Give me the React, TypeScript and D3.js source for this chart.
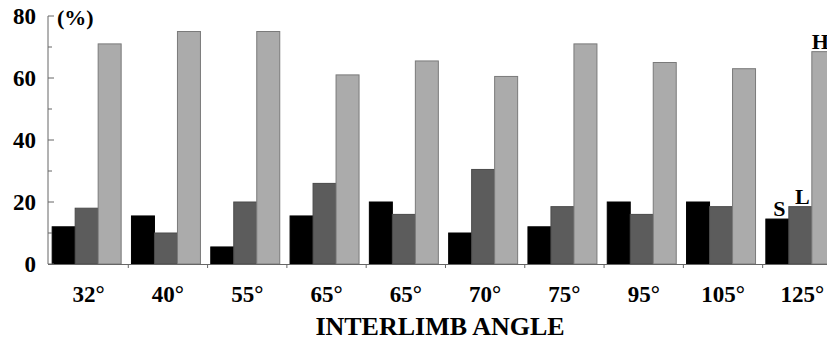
import { useEffect, useRef } from "react";
import { select, scaleBand, scaleLinear, range } from "d3";

const angles = ["32", "40", "55", "65", "65", "70", "75", "95", "105", "125"];
const seriesS = [12, 15.5, 5.5, 15.5, 20, 10, 12, 20, 20, 14.5];
const seriesL = [18, 10, 20, 26, 16, 30.5, 18.5, 16, 18.5, 18.5];
const seriesH = [71, 75, 75, 61, 65.5, 60.5, 71, 65, 63, 68.5];
const yTicks = [0, 20, 40, 60, 80];
const yMinor = [10, 30, 50, 70];

function App() {
    const svgRef = useRef(null);

    useEffect(() => {
        const W = 835;
        const H = 348;
        const axisX = 48;
        const svg = select(svgRef.current).attr("width", W).attr("height", H);
        svg.selectAll("*").remove();

        const font = "'Liberation Serif', 'Times New Roman', serif";

        const yScale = scaleLinear().domain([0, 80]).range([264, 16]);
        const xScale = scaleBand()
            .domain(range(angles.length).map(String))
            .range([axisX + 1, 838])
            .paddingInner(0.13)
            .paddingOuter(0.04);
        const bw = xScale.bandwidth() / 3;
        const step = xScale.step();

        // bars
        const series = [
            { values: seriesS, fill: "#000000", stroke: "#000000" },
            { values: seriesL, fill: "#5c5c5c", stroke: "#4a4a4a" },
            { values: seriesH, fill: "#ababab", stroke: "#7a7a7a" },
        ];
        const bars = svg.append("g");
        series.forEach((s, si) => {
            bars.selectAll(".bar" + si)
                .data(s.values)
                .join("rect")
                .attr("x", (d, i) => xScale(String(i)) + si * bw)
                .attr("y", (d) => yScale(d))
                .attr("width", bw)
                .attr("height", (d) => yScale(0) - yScale(d))
                .attr("fill", s.fill)
                .attr("stroke", s.stroke)
                .attr("stroke-width", 1);
        });

        // axes
        const axis = svg.append("g").attr("stroke", "#666").attr("stroke-width", 1);
        axis.append("line")
            .attr("x1", axisX).attr("x2", axisX)
            .attr("y1", yScale(80)).attr("y2", yScale(0));
        axis.append("line")
            .attr("x1", axisX).attr("x2", W)
            .attr("y1", yScale(0) + 0.5).attr("y2", yScale(0) + 0.5);
        axis.selectAll(".major")
            .data(yTicks)
            .join("line")
            .attr("x1", axisX).attr("x2", axisX + 6)
            .attr("y1", (d) => yScale(d)).attr("y2", (d) => yScale(d));
        axis.selectAll(".minor")
            .data(yMinor)
            .join("line")
            .attr("x1", axisX).attr("x2", axisX + 4)
            .attr("y1", (d) => yScale(d)).attr("y2", (d) => yScale(d));
        axis.selectAll(".xt")
            .data(range(1, angles.length))
            .join("line")
            .attr("x1", (i) => xScale(String(i)) - step * 0.04)
            .attr("x2", (i) => xScale(String(i)) - step * 0.04)
            .attr("y1", yScale(0)).attr("y2", yScale(0) + 4);

        svg.selectAll(".ylab")
            .data(yTicks)
            .join("text")
            .attr("x", 36)
            .attr("y", (d) => yScale(d) + 8)
            .attr("text-anchor", "end")
            .attr("font-family", font)
            .attr("font-weight", "bold")
            .attr("font-size", 23)
            .text((d) => d);

        svg.append("text")
            .attr("x", 57).attr("y", 25)
            .attr("font-family", font)
            .attr("font-weight", "bold")
            .attr("font-size", 22)
            .text("(%)");

        svg.selectAll(".xlab")
            .data(angles)
            .join("text")
            .attr("x", (d, i) => xScale(String(i)) + xScale.bandwidth() / 2 + 2)
            .attr("y", 302)
            .attr("text-anchor", "middle")
            .attr("font-family", font)
            .attr("font-weight", "bold")
            .attr("font-size", 23)
            .text((d) => d + "°");

        svg.append("text")
            .attr("x", 440).attr("y", 335)
            .attr("text-anchor", "middle")
            .attr("font-family", font)
            .attr("font-weight", "bold")
            .attr("font-size", 26)
            .text("INTERLIMB ANGLE");

        // series labels on last group
        const last = String(angles.length - 1);
        const lastX = xScale(last);
        const n = angles.length - 1;
        const lab = [
            { t: "S", v: seriesS[n], k: 0, dx: 2 },
            { t: "L", v: seriesL[n], k: 1, dx: 2 },
            { t: "H", v: seriesH[n], k: 2, dx: -3 },
        ];
        svg.selectAll(".slab")
            .data(lab)
            .join("text")
            .attr("x", (d) => lastX + d.k * bw + bw / 2 + d.dx)
            .attr("y", (d) => yScale(d.v) - 3)
            .attr("text-anchor", "middle")
            .attr("font-family", font)
            .attr("font-weight", "bold")
            .attr("font-size", 22)
            .text((d) => d.t);
    }, []);

    return (
        <div style={{ margin: -8 }}>
            <svg ref={svgRef}></svg>
        </div>
    );
}

export default App;
